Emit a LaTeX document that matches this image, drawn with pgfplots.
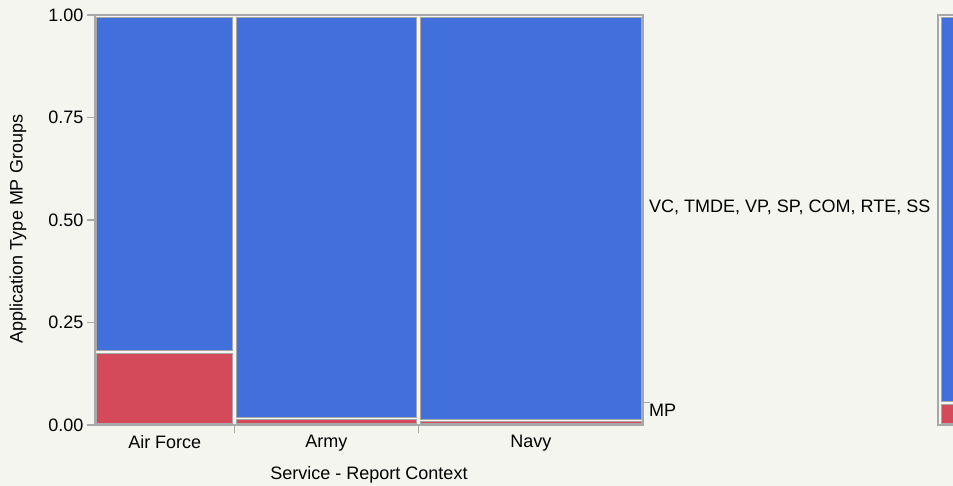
\documentclass[border=0pt]{standalone}
\usepackage{pgfplots}
\pgfplotsset{compat=1.18}
\usepackage{fontspec}
\setmainfont{Liberation Sans}

\definecolor{bgc}{RGB}{245,245,240}
\definecolor{cellblue}{RGB}{65,112,220}
\definecolor{cellred}{RGB}{212,74,90}
\definecolor{framegray}{RGB}{168,168,168}

\newcommand{\chartfont}{\fontsize{18}{21}\selectfont}

\pgfplotsset{
  mosaic/.style={
    scale only axis, height=410pt,
    xmin=0, xmax=1, ymin=0, ymax=1,
    axis line style={framegray, line width=1.6pt},
    tick style={framegray, line width=1.2pt},
    tick align=outside,
    xtick pos=bottom, ytick pos=left,
    clip=false,
    /pgf/number format/assume math mode=true,
    tick label style={font=\chartfont},
  },
  cell/.style={draw=framegray, line width=1pt, mark=none, sharp plot},
}

\begin{document}
\begin{tikzpicture}
\useasboundingbox[fill=bgc] (0,0) rectangle (953pt,486pt);

% main mosaic: column widths = share of reports per service
\begin{axis}[mosaic, width=548pt,
    at={(95pt,61pt)}, anchor=south west,
    ytick={0,0.25,0.5,0.75,1},
    yticklabel style={/pgf/number format/.cd, fixed, fixed zerofill, precision=2},
    major tick length=8pt,
    xtick={0.2545,0.5903}, xticklabels={{},{}},
    extra x ticks={0.1273,0.4224,0.7952},
    extra x tick labels={Air Force,Army,Navy},
    extra x tick style={major tick length=0pt, xticklabel style={yshift=-7pt}},
    xlabel={Service - Report Context},
    ylabel={Application Type MP Groups},
    every axis x label/.style={at={(axis description cs:0.5,0)}, anchor=center, yshift=-50pt, font=\chartfont},
    every axis y label/.style={at={(axis description cs:0,0.5)}, anchor=center, xshift=-77pt, yshift=-9pt, rotate=90, font=\chartfont},
  ]
  % Air Force (MP share ~0.178)
  \addplot[cell, fill=cellred]  coordinates {(0.003,0.004) (0.2515,0.004) (0.2515,0.174) (0.003,0.174)} -- cycle;
  \addplot[cell, fill=cellblue] coordinates {(0.003,0.182) (0.2515,0.182) (0.2515,0.995) (0.003,0.995)} -- cycle;
  % Army (MP share ~0.016)
  \addplot[cell, fill=cellred]  coordinates {(0.2575,0.004) (0.5873,0.004) (0.5873,0.013) (0.2575,0.013)} -- cycle;
  \addplot[cell, fill=cellblue] coordinates {(0.2575,0.019) (0.5873,0.019) (0.5873,0.995) (0.2575,0.995)} -- cycle;
  % Navy (MP share ~0.011)
  \addplot[cell, fill=cellred]  coordinates {(0.5933,0.004) (0.997,0.004) (0.997,0.008) (0.5933,0.008)} -- cycle;
  \addplot[cell, fill=cellblue] coordinates {(0.5933,0.014) (0.997,0.014) (0.997,0.995) (0.5933,0.995)} -- cycle;

  % right-hand level labels
  \draw[framegray, line width=1.2pt] (axis cs:1,0.054) -- ++(7pt,0);
  \node[anchor=west, font=\chartfont, inner sep=0pt] at ([xshift=6pt]axis cs:1,0.035) {MP};
  \node[anchor=west, font=\chartfont, inner sep=0pt] at ([xshift=6pt]axis cs:1,0.532) {VC, TMDE, VP, SP, COM, RTE, SS};
\end{axis}

% overall marginal bar (cut at the page edge)
\begin{axis}[mosaic, width=40pt,
    at={(938pt,61pt)}, anchor=south west,
    xtick=\empty, ytick=\empty,
  ]
  \addplot[cell, fill=cellred]  coordinates {(0.08,0.004) (0.95,0.004) (0.95,0.049) (0.08,0.049)} -- cycle;
  \addplot[cell, fill=cellblue] coordinates {(0.08,0.057) (0.95,0.057) (0.95,0.995) (0.08,0.995)} -- cycle;
\end{axis}
\end{tikzpicture}
\end{document}
